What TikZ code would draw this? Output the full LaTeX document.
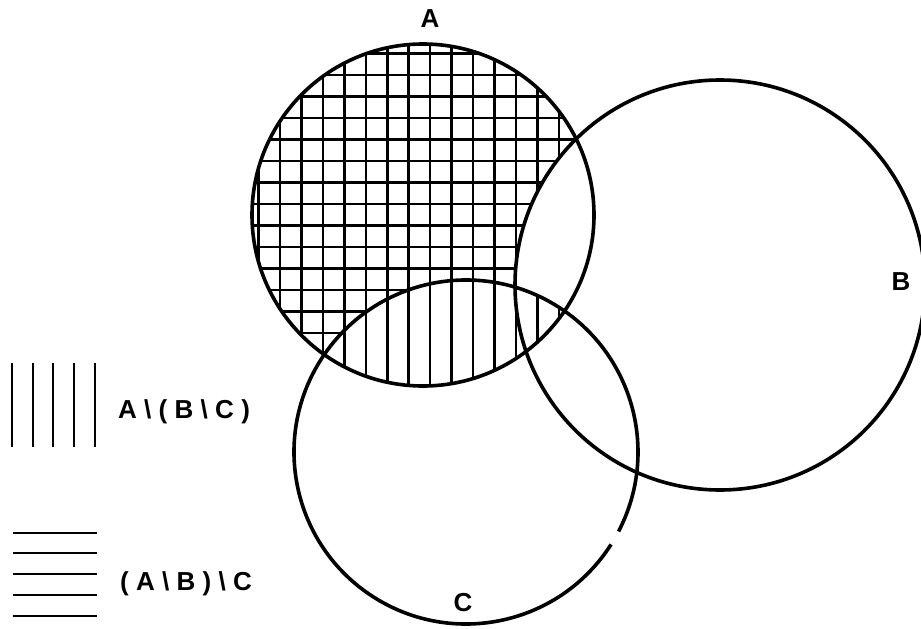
\documentclass[tikz,border=0pt]{standalone}
\usepackage{fontspec}
\newfontfamily\letterfont[LetterSpace=28]{Liberation Sans Bold}
\newcommand{\rA}{171}
\newcommand{\rB}{205}
\newcommand{\rC}{172}
\tikzset{
  setline/.style={draw=black,line width=3.6pt},
  hatch/.style  ={draw=black,line width=2.6pt},
  keyline/.style={draw=black,line width=2.6pt},
  lbl/.style    ={font=\letterfont\fontsize{26}{26}\selectfont,inner sep=0pt},
}
\begin{document}
\begin{tikzpicture}[x=1pt,y=-1pt]
\useasboundingbox (0,0) rectangle (921,629);
\coordinate (cA) at (423,215);
\coordinate (cB) at (720,285);
\coordinate (cC) at (466,452);
% vertical hatching: A outside B
\begin{scope}[even odd rule]
  \clip (cA) circle[radius=\rA];
  \clip (0,0) rectangle (921,629) (cB) circle[radius=\rB];
  \foreach \k in {-1,...,15}
    \draw[hatch] (280+21.45*\k,30) -- (280+21.45*\k,400);
\end{scope}
% vertical hatching: A, B and C
\begin{scope}
  \clip (cA) circle[radius=\rA];
  \clip (cB) circle[radius=\rB];
  \clip (cC) circle[radius=\rC];
  \foreach \k in {-1,...,15}
    \draw[hatch] (280+21.45*\k,30) -- (280+21.45*\k,400);
\end{scope}
% horizontal hatching: A outside B and C
\begin{scope}[even odd rule]
  \clip (cA) circle[radius=\rA];
  \clip (0,0) rectangle (921,629) (cB) circle[radius=\rB];
  \clip (0,0) rectangle (921,629) (cC) circle[radius=\rC];
  \foreach \k in {-1,...,14}
    \draw[hatch] (240,75+21.5*\k) -- (600,75+21.5*\k);
\end{scope}
% the three sets
\draw[setline] (cA) circle[radius=\rA];
\draw[setline] (cB) circle[radius=\rB];
\draw[setline] (cC) ++(32.5:\rC) arc[start angle=32.5,end angle=387.5,radius=\rC];
\node[lbl] (labA) at (430,19) {A};
\node[lbl] (labB) at (901,282) {B};
\node[lbl] (labC) at (463,603) {C};
% key
\foreach \x in {12,33,53,74,95}
  \draw[keyline] (\x,363) -- (\x,447);
\foreach \y in {533,553,574,595,616}
  \draw[keyline] (13,\y) -- (97,\y);
\node[lbl,anchor=west] (keyV) at (118,412) {A\textbackslash(B\textbackslash C)};
\node[lbl,anchor=west] (keyH) at (120,584) {(A\textbackslash B)\textbackslash C};
\end{tikzpicture}
\end{document}
